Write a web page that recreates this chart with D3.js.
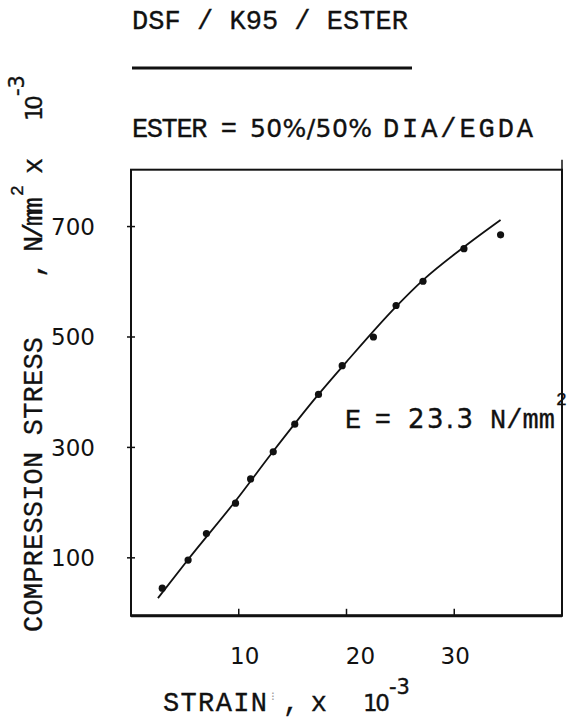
<!DOCTYPE html>
<html>
<head>
<meta charset="utf-8">
<script src="https://cdn.jsdelivr.net/npm/d3@7"></script>
<style>
  body { margin: 0; background: #fff; }
</style>
</head>
<body>
<script>
// measured points, strain x 10^-3 vs stress
var strain = [2.9, 5.3, 7.0, 9.7, 11.1, 13.2, 15.2, 17.4, 19.6, 22.5, 24.6, 27.1, 30.9, 34.3];
var stress = [45, 96, 144, 199, 243, 292, 342, 396, 448, 500, 557, 601, 660, 685];

// hand drawn curve through the points
var fitStrain = [2.5, 5.3, 9.7, 13.2, 17.4, 20.0, 24.6, 27.1, 30.9, 34.3];
var fitStress = [27, 97, 203, 293, 396, 455, 555, 603, 663, 712];

var xTicks = [10, 20, 30];
var xTickNudge = [6, 14, 1];   // the lettering sits a little off the ticks
var yTicks = [100, 300, 500, 700];

var typew = "Liberation Mono, DejaVu Sans Mono, monospace";
var sans = "DejaVu Sans, sans-serif";
var ink = "#111";

var svg = d3.select("body").append("svg")
  .attr("width", 567)
  .attr("height", 721);

var x = d3.scaleLinear().domain([0, 40]).range([131, 562]);
var y = d3.scaleLinear().domain([-5, 803]).range([615.8, 169.7]);

// put a word between two x positions, like the typed original
function put(g, str, x0, x1, base, font, size) {
  return g.append("text")
    .attr("x", x0).attr("y", base)
    .attr("font-family", font).attr("font-size", size)
    .attr("fill", ink).attr("stroke", ink).attr("stroke-width", 0.35)
    .attr("textLength", x1 - x0).attr("lengthAdjust", "spacing")
    .text(str);
}

// small raised text, left as it comes
function sup(g, str, x0, base, font, size) {
  return g.append("text")
    .attr("x", x0).attr("y", base)
    .attr("font-family", font).attr("font-size", size)
    .attr("fill", ink).attr("stroke", ink).attr("stroke-width", 0.35)
    .text(str);
}

// frame
svg.append("rect")
  .attr("x", x(0)).attr("y", y(803))
  .attr("width", x(40) - x(0)).attr("height", y(-5) - y(803))
  .attr("fill", "none").attr("stroke", ink).attr("stroke-width", 2);
svg.append("line")
  .attr("x1", x(0)).attr("x2", x(40))
  .attr("y1", y(-5)).attr("y2", y(-5))
  .attr("stroke", ink).attr("stroke-width", 3);
svg.append("line")
  .attr("x1", x(40)).attr("x2", x(40))
  .attr("y1", y(803) - 10).attr("y2", y(803))
  .attr("stroke", ink).attr("stroke-width", 1.5);

// y ticks cross the left edge
svg.selectAll(".ytick").data(yTicks).enter().append("line")
  .attr("x1", x(0) - 4).attr("x2", x(0) + 4)
  .attr("y1", function(d) { return y(d); })
  .attr("y2", function(d) { return y(d); })
  .attr("stroke", ink).attr("stroke-width", 1.5);
svg.selectAll(".ylab").data(yTicks).enter().append("text")
  .attr("x", 95)
  .attr("y", function(d) { return y(d); })
  .attr("dy", "0.36em")
  .attr("text-anchor", "end")
  .attr("font-family", sans)
  .attr("font-size", 23)
  .attr("fill", ink)
  .text(function(d) { return d; });

// x ticks point up from the bottom edge
svg.selectAll(".xtick").data(xTicks).enter().append("line")
  .attr("x1", function(d) { return x(d); })
  .attr("x2", function(d) { return x(d); })
  .attr("y1", y(-5)).attr("y2", y(-5) - 7)
  .attr("stroke", ink).attr("stroke-width", 1.5);
svg.selectAll(".xlab").data(xTicks).enter().append("text")
  .attr("x", function(d, i) { return x(d) + xTickNudge[i]; })
  .attr("y", 664)
  .attr("text-anchor", "middle")
  .attr("font-family", sans)
  .attr("font-size", 23)
  .attr("fill", ink)
  .text(function(d) { return d; });

// curve
var line = d3.line()
  .x(function(d, i) { return x(fitStrain[i]); })
  .y(function(d, i) { return y(fitStress[i]); })
  .curve(d3.curveMonotoneX);
svg.append("path")
  .attr("d", line(fitStrain))
  .attr("fill", "none").attr("stroke", ink).attr("stroke-width", 1.8);

// points
svg.selectAll(".pt").data(strain).enter().append("circle")
  .attr("cx", function(d) { return x(d); })
  .attr("cy", function(d, i) { return y(stress[i]); })
  .attr("r", 3.6)
  .attr("fill", ink);

// title block
put(svg, "DSF / K95 / ESTER", 132, 408, 29, typew, 27);
svg.append("line")
  .attr("x1", 132).attr("x2", 412).attr("y1", 68).attr("y2", 68)
  .attr("stroke", ink).attr("stroke-width", 3);

put(svg, "ESTER =", 132, 237, 137, typew, 27);
put(svg, "50%/50%", 250, 372, 137, sans, 25);
put(svg, "DIA/EGDA", 383, 533, 137, typew, 27);

// modulus note
put(svg, "E =", 345, 391, 428, typew, 27);
put(svg, "23.3", 408, 473, 428, sans, 26);
put(svg, "N/mm", 490, 555, 428, typew, 27);
sup(svg, "2", 556, 405, typew, 18);

// x axis title
put(svg, "STRAIN", 163, 267, 711, typew, 27);
svg.append("text").attr("x", 271).attr("y", 700)
  .attr("font-family", sans).attr("font-size", 12).attr("fill", "#999")
  .text("\u205D");
put(svg, ", x", 283, 327, 711, typew, 27);
put(svg, "10", 363, 390, 711, sans, 23);
sup(svg, "-3", 389, 694, sans, 21);

// y axis title, turned to read upwards; positions are distances up the page
var yg = svg.append("g").attr("transform", "translate(42,0) rotate(-90)");
put(yg, "COMPRESSION STRESS", -632, -337, 0, typew, 27);
put(yg, ", N/mm", -278, -197, 0, typew, 27);
sup(yg, "2", -196, -19, typew, 18);
put(yg, "x", -174, -160, 0, typew, 27);
put(yg, "10", -121, -95, 0, sans, 23);
sup(yg, "-3", -96, -18, sans, 21);
</script>
</body>
</html>
